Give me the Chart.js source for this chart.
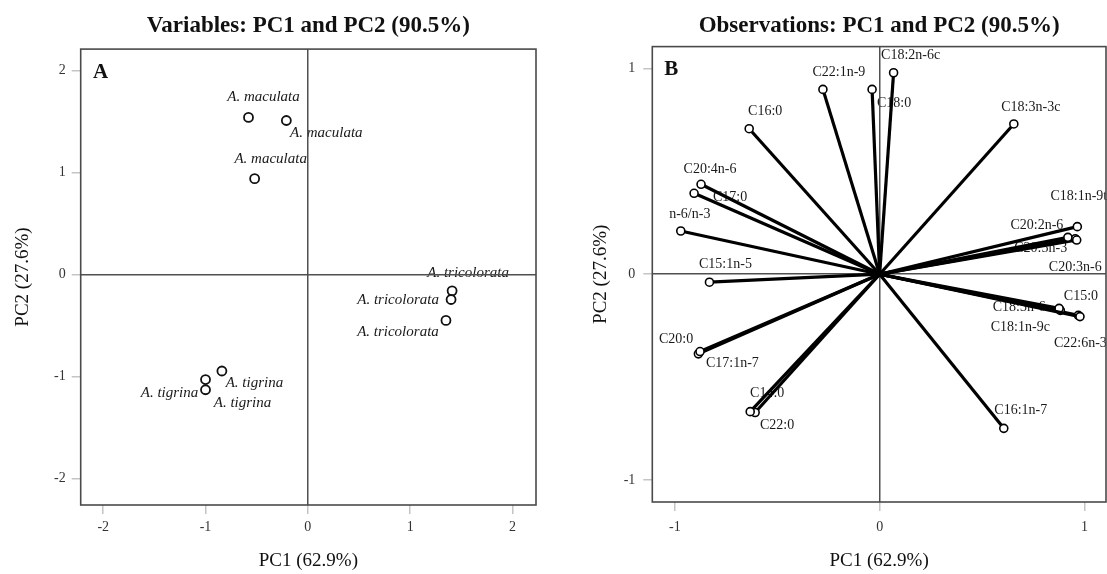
<!DOCTYPE html>
<html lang="en">
<head>
  <meta charset="UTF-8" />
  <title>PCA biplot</title>
  <script src="https://cdn.jsdelivr.net/npm/chart.js"></script>
  <style>
    body {
      margin: 0;
      background: #fff;
      width: 1107px;
      height: 574px;
      position: relative;
      overflow: hidden;
    }
    canvas {
      position: absolute;
      top: 0;
    }
    #leftChart { left: 0; }
    #rightChart { left: 553px; }
  </style>
</head>
<body>

  <canvas id="leftChart" width="553" height="574"></canvas>
  <canvas id="rightChart" width="554" height="574"></canvas>

  <script>
    const FONT = '"Liberation Serif", "DejaVu Serif", serif';

    // Panel A: species scores
    const leftTicks = [-2, -1, 0, 1, 2];
    const speciesNames = ['A. maculata', 'A. maculata', 'A. maculata',
                          'A. tricolorata', 'A. tricolorata', 'A. tricolorata',
                          'A. tigrina', 'A. tigrina', 'A. tigrina'];
    const speciesX = [-0.58, -0.21, -0.52, 1.41, 1.40, 1.35, -1.00, -0.84, -1.00];
    const speciesY = [1.54, 1.51, 0.94, -0.16, -0.245, -0.45, -1.13, -0.946, -1.03];

    // Panel B: fatty acid loadings
    const rightTicks = [-1, 0, 1];
    const varNames = ['C18:2n-6c', 'C22:1n-9', 'C18:0', 'C16:0', 'C18:3n-3c', 'C20:4n-6',
                      'C17:0', 'n-6/n-3', 'C15:1n-5', 'C18:1n-9t', 'C20:2n-6', 'C20:5n-3',
                      'C20:3n-6', 'C15:0', 'C18:3n-6', 'C18:1n-9c', 'C22:6n-3', 'C16:1n-7',
                      'C20:0', 'C17:1n-7', 'C14:0', 'C22:0'];
    const varX = [0.068, -0.277, -0.037, -0.637, 0.655, -0.872, -0.906, -0.971, -0.831, 0.965, 0.919,
                  0.962, 0.955, 0.978, 0.876, 0.882, 0.970, 0.606, -0.877, -0.885, -0.632, -0.608];
    const varY = [0.979, 0.898, 0.898, 0.707, 0.730, 0.437, 0.393, 0.210, -0.039, 0.231, 0.179,
                  0.166, 0.172, -0.206, -0.166, -0.176, -0.200, -0.749, -0.376, -0.387, -0.668, -0.672];

    // label offsets in pixels (label centre relative to its point)
    const speciesOffsets = [[15, -20], [40, 13], [16, -19.5], [16, -18], [-53, 1], [-48, 12],
                            [-36, 3.5], [32.5, 12], [37, 24]];
    const varOffsets = [[17, -17], [16, -17], [22, 14], [16, -17], [17, -17], [9, -15], [36, 4],
                        [9, -17], [16, -18], [1.5, -30], [-31, -12], [-36, 8], [0, 29], [1, -20],
                        [-40, -1], [-40, 17], [2, 28], [17, -18], [-24, -12], [34, 9], [17, -18], [22, 12.5]];

    // labels under the axes and lines, frame on top
    const biplotDeco = {
      id: 'biplotDeco',
      beforeDraw(chart, args, opts) {
        const { ctx, chartArea, scales: { x, y } } = chart;
        ctx.save();
        ctx.font = opts.font;
        ctx.fillStyle = '#1a1a1a';
        ctx.textAlign = 'center';
        ctx.textBaseline = 'middle';
        opts.names.forEach((n, i) => {
          const px = x.getPixelForValue(opts.xs[i]) + opts.offsets[i][0];
          const py = y.getPixelForValue(opts.ys[i]) + opts.offsets[i][1];
          ctx.fillText(n, px, py);
        });
        ctx.font = 'bold 21px ' + FONT;
        ctx.fillStyle = '#111';
        ctx.fillText(opts.letter, chartArea.left + opts.letterPos[0], chartArea.top + opts.letterPos[1]);
        ctx.restore();
      },
      afterDraw(chart) {
        const { ctx, chartArea } = chart;
        ctx.save();
        ctx.strokeStyle = '#4a4a4a';
        ctx.lineWidth = 1.6;
        ctx.strokeRect(chartArea.left, chartArea.top, chartArea.right - chartArea.left, chartArea.bottom - chartArea.top);
        ctx.restore();
      }
    };

    function axis(min, max, ticks, title, titlePad, size, labelPad) {
      return {
        type: 'linear',
        min: min,
        max: max,
        afterBuildTicks: s => { s.ticks = ticks.map(v => ({ value: v })); },
        afterFit: s => {
          if (s.isHorizontal()) s.height = size; else s.width = size;
        },
        border: { display: false },
        grid: {
          color: c => (c.tick && c.tick.value === 0) ? '#505050' : 'rgba(0,0,0,0)',
          lineWidth: 1.5,
          tickColor: '#c4c4c4',
          tickWidth: 1.5,
          tickLength: 9
        },
        ticks: {
          padding: labelPad,
          color: '#333',
          font: { family: FONT, size: 14 }
        },
        title: {
          display: true,
          text: title,
          color: '#111',
          padding: titlePad,
          font: { family: FONT, size: 19 }
        }
      };
    }

    function baseOptions(titleText, titleBottom, xs, ys, deco, padRight) {
      return {
        responsive: false,
        animation: false,
        layout: { autoPadding: false, padding: { left: 0, right: padRight, top: 0, bottom: 0 } },
        scales: { x: xs, y: ys },
        plugins: {
          legend: { display: false },
          tooltip: { enabled: false },
          title: {
            display: true,
            fullSize: false,
            text: titleText,
            color: '#111',
            padding: { top: 12, bottom: titleBottom },
            font: { family: FONT, size: 23, weight: 'bold' }
          },
          biplotDeco: deco
        }
      };
    }

    // Panel A
    new Chart(document.getElementById('leftChart').getContext('2d'), {
      type: 'scatter',
      data: {
        datasets: [{
          data: speciesX.map((v, i) => ({ x: v, y: speciesY[i] })),
          pointRadius: 4.5,
          pointBorderWidth: 1.8,
          pointBorderColor: '#111',
          pointBackgroundColor: '#fff'
        }]
      },
      options: baseOptions('Variables: PC1 and PC2 (90.5%)', 9.5,
        axis(-2.22, 2.23, leftTicks, 'PC1 (62.9%)', { bottom: 2 }, 69, 5),
        axis(-2.26, 2.21, leftTicks, 'PC2 (27.6%)', { top: 12 }, 80.7, 6),
        { names: speciesNames, xs: speciesX, ys: speciesY, offsets: speciesOffsets,
          font: 'italic 15px ' + FONT, letter: 'A', letterPos: [20, 23.5] },
        17),
      plugins: [biplotDeco]
    });

    // Panel B
    new Chart(document.getElementById('rightChart').getContext('2d'), {
      type: 'scatter',
      data: {
        datasets: varNames.map((n, i) => ({
          label: n,
          data: [{ x: 0, y: 0 }, { x: varX[i], y: varY[i] }],
          showLine: true,
          borderColor: '#000',
          borderWidth: 3.2,
          borderCapStyle: 'butt',
          pointRadius: [0, 4],
          pointBorderWidth: 1.6,
          pointBorderColor: '#000',
          pointBackgroundColor: '#fff'
        }))
      },
      options: baseOptions('Observations: PC1 and PC2 (90.5%)', 7,
        axis(-1.11, 1.105, rightTicks, 'PC1 (62.9%)', { bottom: 2 }, 72, 8),
        axis(-1.107, 1.106, rightTicks, 'PC2 (27.6%)', { top: 37 }, 99.3, 8),
        { names: varNames, xs: varX, ys: varY, offsets: varOffsets,
          font: '14px ' + FONT, letter: 'B', letterPos: [19, 22.5] },
        1),
      plugins: [biplotDeco]
    });
  </script>

</body>
</html>
